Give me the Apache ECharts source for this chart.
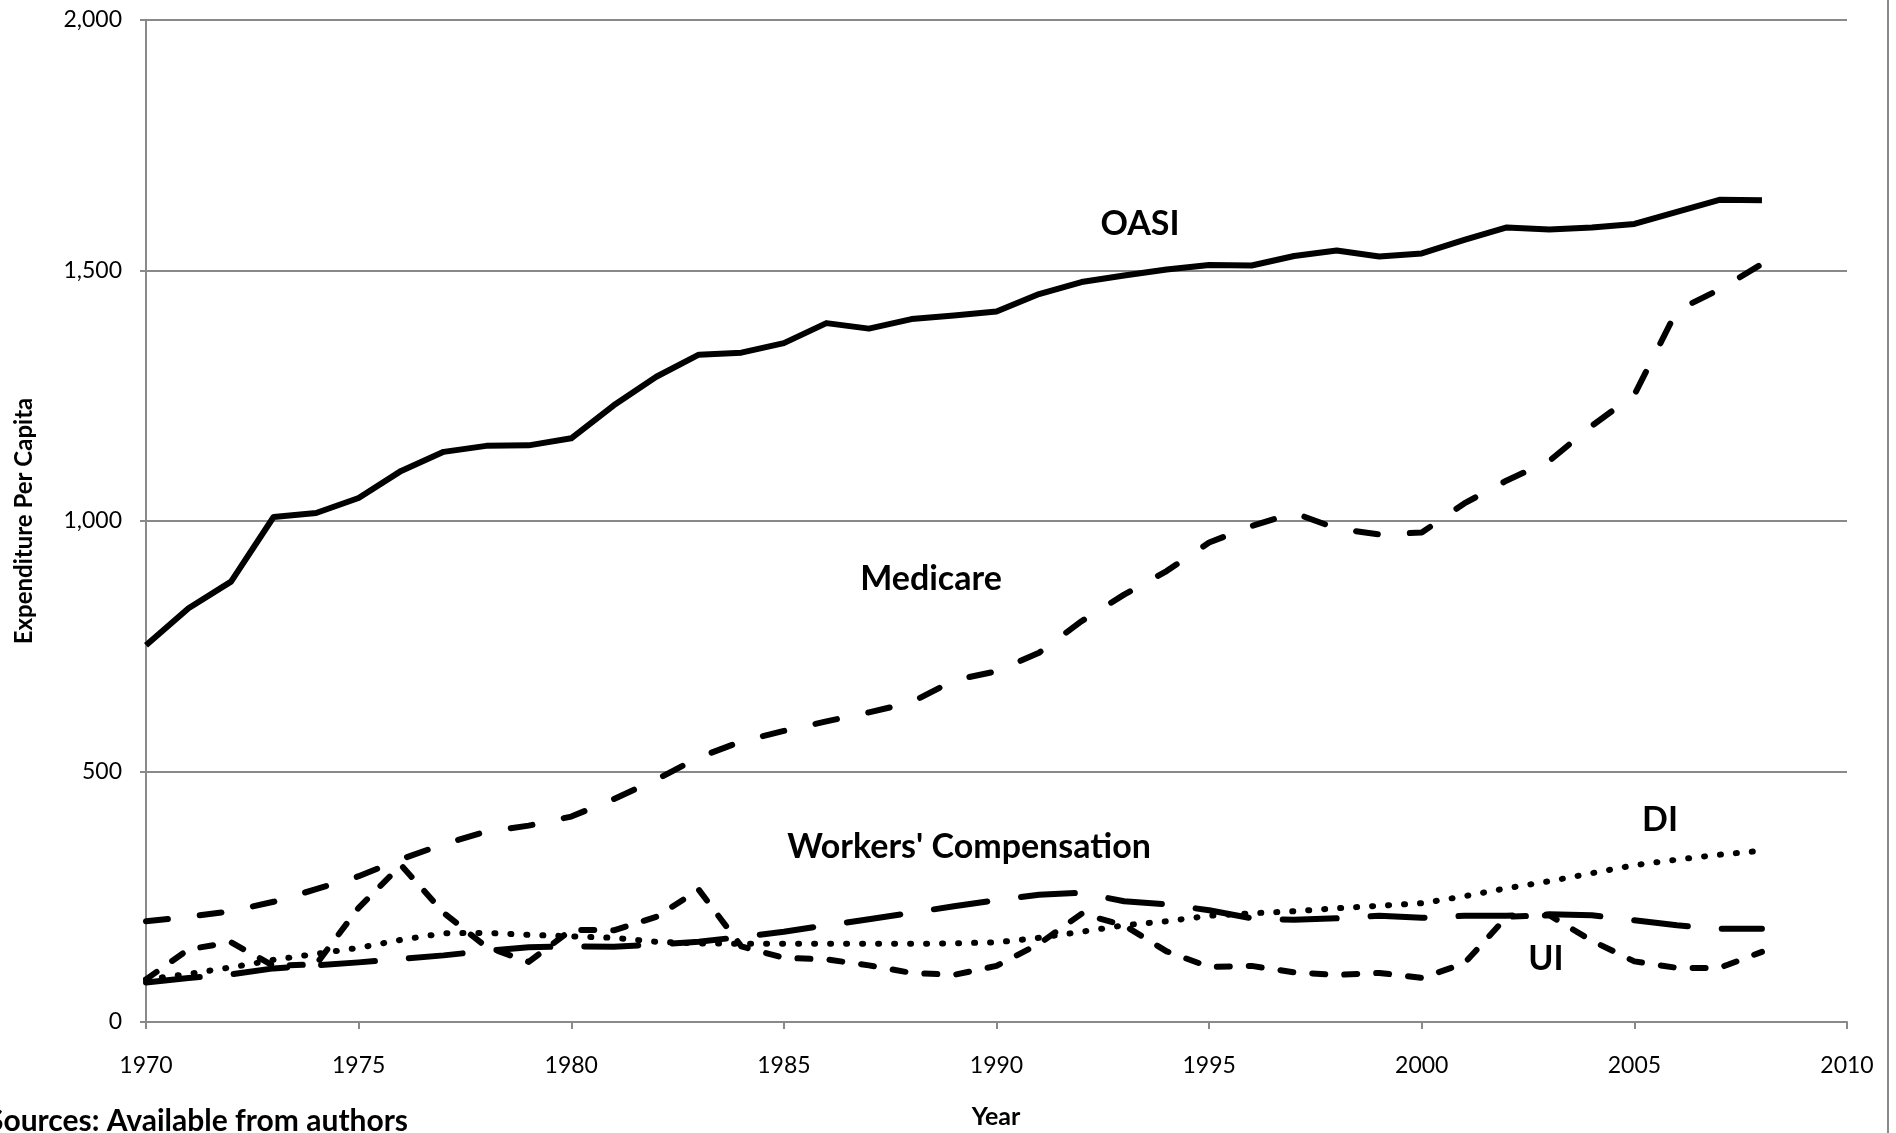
<!DOCTYPE html>
<html>
<head>
<meta charset="utf-8">
<script src="https://cdn.jsdelivr.net/npm/echarts@6/dist/echarts.min.js"></script>
<style>
  html, body { margin: 0; padding: 0; background: #fff; }
  #lineChart { width: 1896px; height: 1133px; }
</style>
</head>
<body>
<div id="lineChart"></div>
<script>
// per capita spending, 1970-2008
const years = [1970, 1971, 1972, 1973, 1974, 1975, 1976, 1977, 1978, 1979,
  1980, 1981, 1982, 1983, 1984, 1985, 1986, 1987, 1988, 1989,
  1990, 1991, 1992, 1993, 1994, 1995, 1996, 1997, 1998, 1999,
  2000, 2001, 2002, 2003, 2004, 2005, 2006, 2007, 2008];
const oasi = [752, 826, 879, 1008, 1016, 1046, 1100, 1138, 1150, 1151,
  1165, 1231, 1288, 1332, 1336, 1355, 1395, 1384, 1403, 1410,
  1418, 1453, 1477, 1490, 1502, 1511, 1510, 1529, 1540, 1528,
  1534, 1561, 1586, 1582, 1586, 1593, 1617, 1641, 1640];
const medicare = [201, 210, 221, 240, 265, 291, 325, 355, 380, 392,
  410, 445, 484, 528, 560, 581, 600, 618, 638, 682,
  700, 737, 800, 853, 900, 957, 990, 1016, 985, 973,
  977, 1035, 1081, 1120, 1190, 1252, 1420, 1462, 1513];
const workersComp = [79, 88, 95, 107, 113, 119, 126, 133, 142, 149,
  151, 150, 155, 160, 170, 180, 193, 205, 218, 231,
  243, 254, 258, 241, 235, 223, 207, 204, 207, 212,
  208, 212, 212, 215, 213, 203, 193, 186, 186];
const di = [85, 96, 109, 124, 136, 148, 164, 177, 178, 174,
  171, 168, 160, 157, 156, 156, 156, 156, 156, 157,
  159, 168, 180, 193, 201, 212, 217, 221, 227, 232,
  237, 251, 267, 281, 297, 313, 324, 334, 342];
const ui = [85, 145, 159, 112, 115, 228, 313, 218, 150, 120,
  184, 183, 210, 264, 151, 128, 125, 113, 98, 94,
  112, 156, 216, 193, 141, 110, 112, 99, 94, 98,
  88, 117, 210, 213, 162, 121, 108, 108, 140];

const FONT = 'Lato, "Open Sans", sans-serif';
const GRAY = '#898989';

function pairs(values) {
  return years.map((y, i) => [y, values[i]]);
}

function lineSeries(name, values, dash) {
  return {
    name: name,
    type: 'line',
    data: pairs(values),
    showSymbol: false,
    symbol: 'none',
    smooth: false,
    lineStyle: {
      color: '#000',
      width: 6,
      type: dash,
      cap: dash === 'solid' ? 'butt' : 'round',
      join: 'round'
    }
  };
}

function label(text, x, y) {
  return {
    type: 'text',
    x: x,
    y: y,
    style: {
      text: text,
      fill: '#000',
      font: 'bold 34px ' + FONT,
      align: 'center',
      verticalAlign: 'middle'
    }
  };
}

let chart = echarts.init(document.getElementById('lineChart'));
chart.setOption({
  backgroundColor: '#fff',
  animation: false,
  grid: {
    left: 146,
    right: 49,
    top: 20,
    bottom: 111
  },
  xAxis: {
    type: 'value',
    min: 1970,
    max: 2010,
    interval: 5,
    axisLine: { show: true, lineStyle: { color: GRAY, width: 2 } },
    axisTick: { show: true, length: 7, lineStyle: { color: GRAY, width: 2 } },
    splitLine: { show: false },
    axisLabel: {
      color: '#000',
      fontFamily: FONT,
      fontSize: 23,
      margin: 32,
      formatter: v => String(v)
    }
  },
  yAxis: {
    type: 'value',
    min: 0,
    max: 2000,
    interval: 500,
    axisLine: { show: true, lineStyle: { color: GRAY, width: 2 } },
    axisTick: { show: true, length: 6, lineStyle: { color: GRAY, width: 2 } },
    splitLine: { show: true, lineStyle: { color: GRAY, width: 2 } },
    axisLabel: {
      color: '#000',
      fontFamily: FONT,
      fontSize: 23,
      margin: 24,
      formatter: v => v.toLocaleString('en-US')
    }
  },
  series: [
    lineSeries('Workers\' Compensation', workersComp, [54, 34]),
    lineSeries('UI', ui, [13, 19]),
    lineSeries('DI', di, [1, 15]),
    lineSeries('Medicare', medicare, [22, 32]),
    lineSeries('OASI', oasi, 'solid')
  ],
  graphic: [
    label('OASI', 1140, 224),
    label('Medicare', 931, 579),
    label('Workers\' Compensation', 969, 847),
    label('DI', 1660, 820),
    label('UI', 1546, 959),
    {
      type: 'text',
      x: 24,
      y: 521,
      rotation: Math.PI / 2,
      style: {
        text: 'Expenditure Per Capita',
        fill: '#000',
        font: 'bold 24px ' + FONT,
        align: 'center',
        verticalAlign: 'middle'
      }
    },
    {
      type: 'text',
      x: 996,
      y: 1117,
      style: {
        text: 'Year',
        fill: '#000',
        font: 'bold 25px ' + FONT,
        align: 'center',
        verticalAlign: 'middle'
      }
    },
    {
      type: 'text',
      x: -13,
      y: 1121,
      style: {
        text: 'Sources: Available from authors',
        fill: '#000',
        font: 'bold 30px ' + FONT,
        align: 'left',
        verticalAlign: 'middle'
      }
    },
    {
      type: 'line',
      shape: { x1: 1888, y1: 0, x2: 1888, y2: 1133 },
      style: { stroke: GRAY, lineWidth: 2 }
    }
  ]
});
</script>
</body>
</html>
